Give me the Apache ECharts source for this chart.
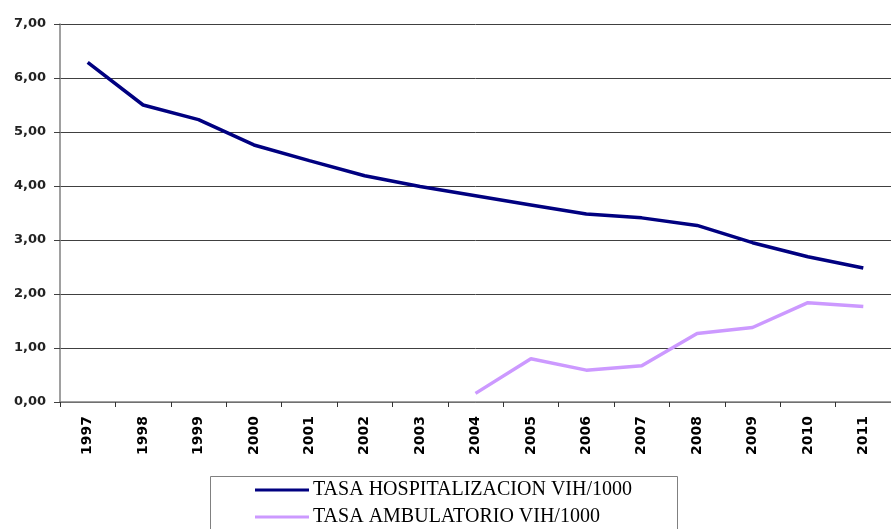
<!DOCTYPE html>
<html>
<head>
<meta charset="utf-8">
<script src="https://cdn.jsdelivr.net/npm/echarts@6/dist/echarts.min.js"></script>
<style>
html,body{margin:0;padding:0;background:#fff;}
#chart{width:891px;height:529px;}
</style>
</head>
<body>
<div id="chart"></div>
<script>
var years = ['1997','1998','1999','2000','2001','2002','2003','2004','2005','2006','2007','2008','2009','2010','2011'];
var hospitalizacion = [6.29, 5.50, 5.23, 4.76, 4.47, 4.19, 3.99, 3.82, 3.65, 3.48, 3.41, 3.27, 2.95, 2.69, 2.48];
var ambulatorio = [null, null, null, null, null, null, null, 0.16, 0.80, 0.59, 0.67, 1.27, 1.38, 1.84, 1.77];
var yTicks = ['0,00','1,00','2,00','3,00','4,00','5,00','6,00','7,00'];
var seriesNames = ['TASA HOSPITALIZACION VIH/1000', 'TASA AMBULATORIO VIH/1000'];

var chart = echarts.init(document.getElementById('chart'), null, {renderer: 'canvas'});
chart.setOption({
  animation: false,
  backgroundColor: '#ffffff',
  grid: {left: 60, right: -7, top: 24, bottom: 127, containLabel: false},
  graphic: [{
    type: 'rect', left: 210, top: 476, z: -1,
    shape: {x: 0, y: 0, width: 467, height: 70},
    style: {fill: '#fff', stroke: '#808080', lineWidth: 1}
  }],
  xAxis: {
    type: 'category',
    data: years,
    boundaryGap: true,
    axisLine: {lineStyle: {color: '#808080', width: 1.5}},
    axisTick: {show: true, length: 5, lineStyle: {color: '#333'}},
    axisLabel: {
      rotate: 90, margin: 14, color: '#000',
      fontFamily: 'DejaVu Sans', fontWeight: 'bold', fontSize: 14
    },
    splitLine: {show: false}
  },
  yAxis: {
    type: 'value',
    min: 0, max: 7, interval: 1,
    axisLine: {show: true, lineStyle: {color: '#808080', width: 1.5}},
    axisTick: {show: true, length: 6, lineStyle: {color: '#404040'}},
    axisLabel: {
      margin: 14, color: '#222',
      fontFamily: 'DejaVu Sans', fontWeight: 'bold', fontSize: 13,
      formatter: function (v) { return yTicks[Math.round(v)]; }
    },
    splitLine: {show: true, lineStyle: {color: '#404040', width: 1}}
  },
  legend: {
    orient: 'vertical',
    left: 210, top: 476,
    padding: [4, 0, 0, 45],
    borderWidth: 0,
    itemWidth: 54, itemHeight: 3,
    itemGap: 7,
    icon: 'rect',
    textStyle: {fontFamily: 'Liberation Serif', fontSize: 20, color: '#000', padding: [0, 0, 0, -1], lineHeight: 20},
    data: seriesNames
  },
  series: [
    {
      name: seriesNames[0], type: 'line', data: hospitalizacion,
      showSymbol: false, symbol: 'none',
      lineStyle: {color: '#000080', width: 3.5},
      itemStyle: {color: '#000080'}
    },
    {
      name: seriesNames[1], type: 'line', data: ambulatorio,
      showSymbol: false, symbol: 'none', connectNulls: false,
      lineStyle: {color: '#CC99FF', width: 3.5},
      itemStyle: {color: '#CC99FF'}
    }
  ]
});
</script>
</body>
</html>
